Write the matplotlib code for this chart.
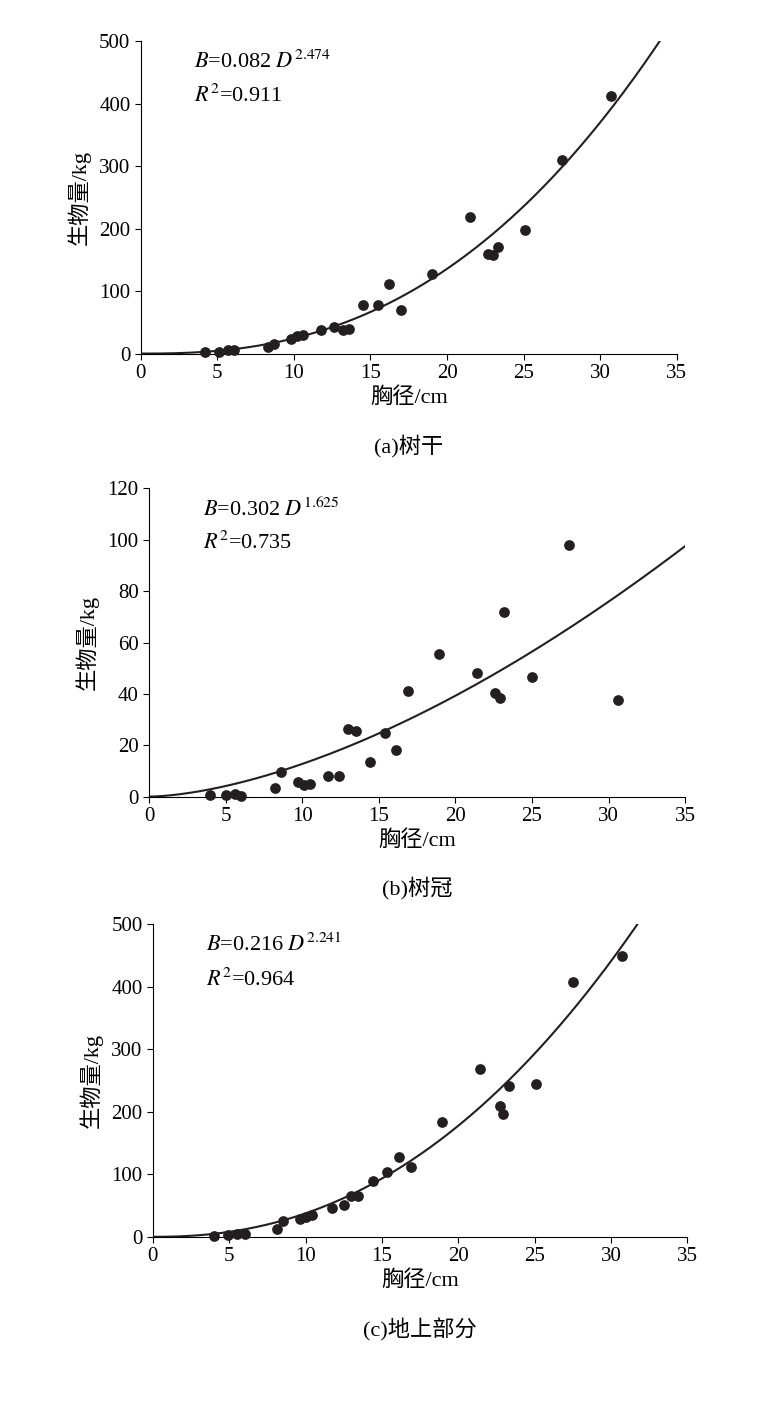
import numpy as np
import matplotlib
matplotlib.use("Agg")
import matplotlib.pyplot as plt

plt.rcParams['font.family'] = ['Liberation Serif', 'Noto Sans CJK SC']
plt.rcParams['mathtext.fontset'] = 'stix'

# 树干
dbh_a = [4.2, 5.1, 5.7, 6.1, 8.3, 8.7, 9.8, 10.2, 10.6, 11.8, 12.6, 13.2, 13.6, 14.5, 15.5, 16.2, 17.0,
         19.0, 21.5, 22.7, 23.0, 23.3, 25.1, 27.5, 30.7]
bio_a = [2, 3, 5, 6, 10, 16, 23, 28, 30, 38, 42, 38, 40, 78, 78, 112, 70,
         128, 219, 160, 158, 170, 197, 310, 412]
# 树冠
dbh_b = [4.0, 5.0, 5.6, 6.0, 8.2, 8.6, 9.7, 10.1, 10.5, 11.7, 12.4, 13.0, 13.5, 14.4, 15.4, 16.1, 16.9,
         18.9, 21.4, 22.6, 22.9, 23.2, 25.0, 27.4, 30.6]
bio_b = [0.5, 0.5, 1, 0.3, 3.2, 9.5, 5.5, 4.5, 5, 8, 8, 26.5, 25.7, 13.5, 24.6, 18, 41,
         55.5, 48, 40.5, 38.6, 72, 46.5, 98, 37.5]
# 地上部分
dbh_c = [4.0, 4.9, 5.5, 6.0, 8.1, 8.5, 9.6, 10.0, 10.4, 11.7, 12.5, 13.0, 13.4, 14.4, 15.3, 16.1, 16.9,
         18.9, 21.4, 22.7, 22.9, 23.3, 25.1, 27.5, 30.7]
bio_c = [2, 3, 4, 5, 13, 26, 29, 31, 35, 46, 51, 66, 66, 90, 103, 128, 111,
         183, 268, 210, 196, 242, 244, 408, 450]

panels = [
    (dbh_a, bio_a, 0.082, 2.474, '0.911', 500, 100, '(a)树干', [0.186, 0.751, 0.708, 0.220]),
    (dbh_b, bio_b, 0.302, 1.625, '0.735', 120, 20, '(b)树冠', [0.197, 0.439, 0.708, 0.217]),
    (dbh_c, bio_c, 0.216, 2.241, '0.964', 500, 100, '(c)地上部分', [0.202, 0.129, 0.706, 0.220]),
]

fig = plt.figure(figsize=(7.57, 14.2), dpi=100)
for x, y, a, b, r2, ymax, ystep, cap, pos in panels:
    ax = fig.add_axes(pos)
    xend = (ymax / a) ** (1 / b)
    xs = np.linspace(0, xend, 300)
    ax.plot(xs, a * xs ** b, color='#231f20', lw=1.5)
    ax.scatter(x, y, s=45, color='#231f20', zorder=3, clip_on=False)
    ax.set_xlim(0, 35)
    ax.set_ylim(0, ymax)
    ax.set_xticks(range(0, 36, 5))
    ax.set_yticks(np.arange(0, ymax + 1, ystep))
    for s in ['top', 'right']:
        ax.spines[s].set_visible(False)
    ax.tick_params(labelsize=15, direction='out', length=4)
    ax.set_xlabel('胸径/cm', fontsize=16, labelpad=3)
    ax.set_ylabel('生物量/kg', fontsize=16, labelpad=6)
    ax.text(0.1, 0.97, f'$B$=%.3f $D^{{{b:.3f}}}$' % a, transform=ax.transAxes, fontsize=16, va='top')
    ax.text(0.1, 0.86, f'$R^2$={r2}', transform=ax.transAxes, fontsize=16, va='top')
    ax.text(0.5, -0.26, cap, transform=ax.transAxes, fontsize=16, ha='center', va='top')

fig.savefig('out.png', dpi=100)
